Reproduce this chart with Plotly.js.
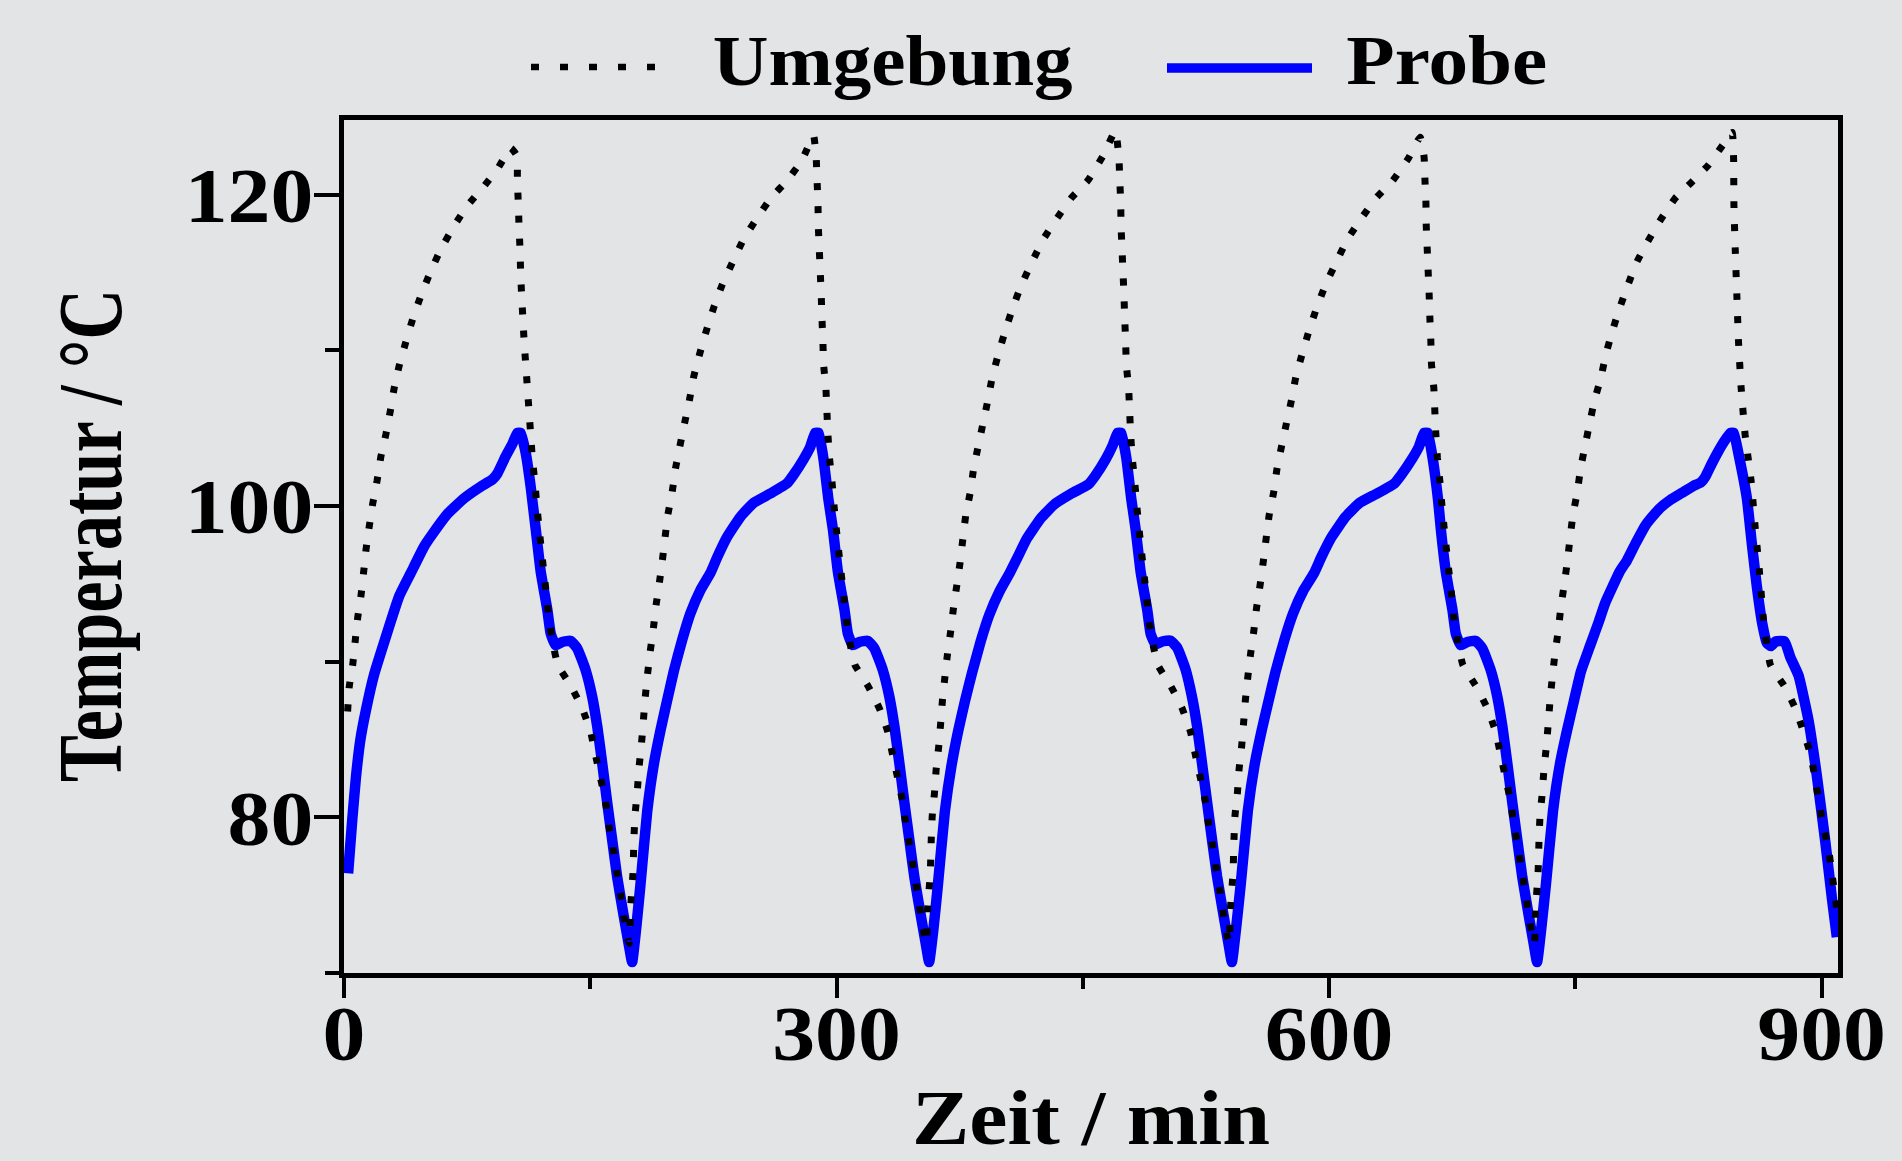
<!DOCTYPE html>
<html>
<head>
<meta charset="utf-8">
<script src="https://cdn.plot.ly/plotly-3.0.1.min.js"></script>
<style>
  html, body { margin: 0; padding: 0; background: #e3e4e6; }
  #chart { width: 1902px; height: 1161px; }
  #chart .js-line { stroke-linejoin: round !important; }
</style>
</head>
<body>
<div id="chart"></div>
<script>
// ---- Data ----
const seriesNames = ['Umgebung', 'Probe'];

const umgebungZeit = [
  2.2, 3.2, 5.3, 6.7, 8.3, 10.3, 12.0, 13.4, 15.4, 17.4, 20.1, 22.5, 25.5, 28.2, 30.6, 33.7, 37.7, 41.8, 46.8, 52.5, 59.0, 67.1, 75.2, 84.9, 93.5, 101.6,
  105.3, 105.6, 106.2, 106.6, 107.2, 107.6, 108.2, 109.0, 109.7, 110.7, 111.7, 112.7, 113.7, 114.7, 116.2, 117.4, 118.8, 120.2, 121.8, 123.4, 124.9, 127.2, 130.2,
  138.4, 145.1, 150.2, 153.2, 156.3, 159.3, 161.3, 163.8, 166.0, 168.4, 170.5, 172.9, 173.8,
  174.5, 176.0, 176.6, 177.2, 178.6, 179.6, 181.0, 182.2, 183.3, 184.7, 186.3, 188.3, 189.9, 192.0, 193.8, 197.2, 199.9, 201.9, 204.5, 207.4, 210.4, 213.0,
  216.7, 220.8, 225.2, 230.3, 236.8, 243.4, 251.6, 260.1, 269.8, 278.9, 286.0,
  287.6, 288.1, 288.7, 288.9, 289.5, 290.1, 290.7, 291.1, 291.7, 292.1, 293.5, 294.1, 294.7, 295.7, 297.2, 298.4, 299.8, 301.2, 302.8, 304.4, 305.9, 308.2,
  311.2, 319.4, 326.1, 331.2, 334.2, 337.3, 340.3, 342.3, 344.8, 347.0, 349.4, 351.5, 353.9, 354.8,
  355.5, 357.1, 357.7, 358.3, 359.7, 360.7, 362.2, 363.4, 364.5, 366.0, 367.6, 369.6, 371.3, 373.4, 375.3, 378.7, 381.5, 383.5, 386.2, 389.2, 392.2, 394.9,
  398.7, 402.9, 407.4, 412.6, 419.2, 426.0, 434.4, 443.1, 453.0, 462.3, 469.8,
  472.0, 472.5, 473.1, 473.3, 473.9, 474.5, 475.1, 475.5, 476.1, 476.5, 477.9, 478.5, 479.1, 480.1, 481.6, 482.8, 484.2, 485.6, 487.2, 488.8, 490.3, 492.6,
  495.6, 503.8, 510.5, 515.6, 518.6, 521.7, 524.7, 526.7, 529.2, 531.4, 533.8, 535.9, 538.3, 539.2,
  539.9, 541.5, 542.1, 542.7, 544.2, 545.2, 546.7, 547.9, 549.0, 550.5, 552.2, 554.2, 555.9, 558.1, 559.9, 563.5, 566.3, 568.3, 571.0, 574.0, 577.1, 579.8,
  583.7, 587.9, 592.5, 597.8, 604.5, 611.3, 619.8, 628.7, 638.7, 648.1, 655.5,
  657.9, 658.4, 659.0, 659.2, 659.8, 660.4, 661.0, 661.4, 662.0, 662.4, 663.8, 664.4, 665.0, 666.0, 667.5, 668.7, 670.1, 671.5, 673.1, 674.7, 676.2, 678.5,
  681.5, 689.7, 696.4, 701.5, 704.5, 707.6, 710.6, 712.6, 715.1, 717.3, 719.7, 721.8, 724.2, 725.1,
  725.8, 727.3, 727.9, 728.5, 729.9, 730.9, 732.3, 733.5, 734.6, 736.0, 737.6, 739.6, 741.2, 743.3, 745.1, 748.5, 751.2, 753.2, 755.8, 758.7, 761.7, 765.5,
  768.5, 772.2, 776.6, 781.7, 787.1, 794.2, 802.0, 810.7, 820.8, 831.0, 839.9, 845.5,
  846.4, 846.6, 847.4, 848.4, 849.4, 851.0, 853.4, 857.1, 859.5, 862.1, 864.6, 868.8, 877.5, 884.0, 889.0, 893.1, 896.1, 898.5, 901.1, 904.2, 906.0, 907.9, 909.3
];
const umgebungTemp = [
  86.8, 88.4, 89.8, 91.2, 92.8, 94.2, 95.8, 97.2, 98.7, 100.1, 101.6, 103.2, 104.6, 106.1, 107.6, 109.05, 110.55, 112.0, 113.5, 115.0, 116.5, 118.0, 119.3, 120.5, 121.65, 123.0,
  122.5, 120.9, 119.4, 118.0, 116.5, 115.0, 113.5, 112.0, 110.6, 109.1, 107.6, 106.1, 104.6, 103.1, 101.6, 100.1, 98.6, 97.2, 95.7, 94.2, 92.7, 91.2, 89.8,
  88.4, 87.0, 85.5, 84.0, 82.5, 81.0, 79.5, 78.1, 76.6, 75.1, 73.6, 72.2, 71.9,
  74.1, 76.4, 78.6, 80.1, 81.6, 83.1, 84.5, 86.0, 87.5, 89.0, 90.5, 92.0, 93.5, 95.0, 96.4, 99.4, 100.9, 102.4, 103.8, 105.3, 106.8, 108.3,
  109.8, 111.3, 112.75, 114.2, 115.7, 117.15, 118.5, 119.8, 120.9, 122.2, 123.8,
  122.4, 121.0, 119.5, 118.0, 116.5, 115.0, 113.5, 112.1, 110.6, 109.1, 107.6, 106.2, 104.7, 103.1, 101.6, 100.1, 98.6, 97.2, 95.7, 94.2, 92.7, 91.2,
  89.8, 88.4, 87.0, 85.5, 84.0, 82.5, 81.0, 79.5, 78.1, 76.6, 75.1, 73.6, 72.2, 71.9,
  74.1, 76.4, 78.6, 80.1, 81.6, 83.1, 84.5, 86.0, 87.5, 89.0, 90.5, 92.0, 93.5, 95.0, 96.4, 99.4, 100.9, 102.4, 103.8, 105.3, 106.8, 108.3,
  109.8, 111.3, 112.75, 114.2, 115.7, 117.15, 118.5, 119.8, 120.9, 122.5, 124.1,
  122.4, 121.0, 119.5, 118.0, 116.5, 115.0, 113.5, 112.1, 110.6, 109.1, 107.6, 106.2, 104.7, 103.1, 101.6, 100.1, 98.6, 97.2, 95.7, 94.2, 92.7, 91.2,
  89.8, 88.4, 87.0, 85.5, 84.0, 82.5, 81.0, 79.5, 78.1, 76.6, 75.1, 73.6, 72.2, 71.9,
  74.1, 76.4, 78.6, 80.1, 81.6, 83.1, 84.5, 86.0, 87.5, 89.0, 90.5, 92.0, 93.5, 95.0, 96.4, 99.4, 100.9, 102.4, 103.8, 105.3, 106.8, 108.3,
  109.8, 111.3, 112.75, 114.2, 115.7, 117.15, 118.5, 119.8, 120.9, 122.3, 123.7,
  122.4, 121.0, 119.5, 118.0, 116.5, 115.0, 113.5, 112.1, 110.6, 109.1, 107.6, 106.2, 104.7, 103.1, 101.6, 100.1, 98.6, 97.2, 95.7, 94.2, 92.7, 91.2,
  89.8, 88.4, 87.0, 85.5, 84.0, 82.5, 81.0, 79.5, 78.1, 76.6, 75.1, 73.6, 72.2, 71.9,
  74.1, 76.4, 78.6, 80.1, 81.6, 83.1, 84.5, 86.0, 87.5, 89.0, 90.5, 92.0, 93.5, 95.0, 96.4, 99.4, 100.9, 102.4, 103.8, 105.3, 106.8, 108.2,
  109.7, 111.1, 112.6, 114.1, 115.6, 117.0, 118.4, 119.76, 120.8, 121.9, 123.2, 124.0,
  122.4, 119.4, 116.5, 113.5, 110.55, 107.6, 104.6, 101.6, 98.7, 95.85, 92.7, 89.8, 88.4, 87.0, 85.5, 84.1, 82.5, 80.9, 79.4, 78.0, 76.6, 75.2, 74.0
];

const probeZeit = [
  2.5, 5.0, 7.3, 10.0, 13.4, 18.4, 25.5, 33.6, 40.7, 48.8, 53.9, 63.1, 73.2, 83.3, 90.4, 93.5, 98.5, 102.6, 105.6, 107.6,
  110.7, 113.7, 116.8, 119.8, 123.9, 125.9, 128.9, 133.0, 138.0, 142.1, 147.2, 151.2, 154.3, 157.3, 160.4, 163.4, 166.4, 170.5, 173.5, 175.5,
  178.0, 180.6, 184.7, 188.7, 192.8, 196.8, 200.9, 206.0, 211.0, 217.1, 223.2, 227.3, 233.3, 241.4, 249.5, 259.7, 269.8, 273.8, 279.9, 284.0, 287.0, 289.1,
  292.1, 295.1, 297.8, 300.8, 304.9, 306.9, 309.9, 314.0, 319.0, 323.1, 328.2, 332.2, 335.3, 338.3, 341.4, 344.4, 347.4, 351.5, 354.5, 356.4,
  359.0, 361.7, 365.9, 370.0, 374.2, 378.3, 382.6, 387.8, 393.0, 399.2, 405.5, 409.8, 415.9, 424.3, 432.6, 443.1, 453.5, 457.6, 463.9, 468.2, 471.2, 473.4,
  476.5, 479.6, 482.2, 485.2, 489.3, 491.3, 494.3, 498.4, 503.4, 507.5, 512.6, 516.6, 519.7, 522.7, 525.8, 528.8, 531.8, 535.9, 538.9, 540.8,
  543.4, 546.2, 550.5, 554.7, 559.0, 563.2, 567.5, 572.8, 578.1, 584.5, 590.9, 595.2, 601.5, 610.0, 618.5, 629.2, 639.8, 644.0, 650.4, 654.7, 657.9, 660.1,
  663.2, 666.4, 668.1, 671.1, 675.2, 677.2, 680.2, 684.3, 689.3, 693.4, 698.5, 702.5, 705.6, 708.6, 711.7, 714.7, 717.7, 721.8, 724.8, 726.7,
  729.3, 732.1, 736.4, 740.6, 745.0, 749.2, 753.5, 758.9, 764.4, 768.3, 777.1, 781.4, 786.7, 793.0, 800.9, 808.0, 815.1, 822.0, 826.3, 829.3, 833.0, 837.0,
  841.0, 844.5, 846.5, 849.4, 854.5, 857.5, 860.6, 863.6, 866.7, 869.0, 872.0, 877.5, 880.9, 886.0, 892.1, 897.2, 902.3, 906.3, 909.3
];
const probeTemp = [
  76.4, 79.8, 82.6, 85.0, 86.9, 89.2, 91.6, 94.2, 95.7, 97.4, 98.2, 99.5, 100.5, 101.25, 101.7, 102.1, 103.2, 104.0, 104.7, 104.7,
  103.4, 101.25, 98.5, 95.8, 93.3, 91.8, 91.06, 91.27, 91.34, 90.85, 89.45, 87.74, 85.81, 83.45, 80.88, 78.52, 76.16, 73.59, 71.8, 70.7,
  72.9, 75.7, 80.4, 83.4, 85.6, 87.5, 89.4, 91.4, 93.1, 94.6, 95.7, 96.7, 98.0, 99.3, 100.2, 100.8, 101.45, 102.0, 103.0, 103.8, 104.7, 104.7,
  103.0, 100.4, 98.5, 95.8, 93.3, 91.8, 91.06, 91.27, 91.34, 90.85, 89.45, 87.74, 85.81, 83.45, 80.88, 78.52, 76.16, 73.59, 71.8, 70.7,
  72.8, 75.6, 80.3, 83.3, 85.6, 87.5, 89.3, 91.3, 93.0, 94.5, 95.7, 96.6, 97.9, 99.2, 100.1, 100.8, 101.4, 101.95, 103.0, 103.9, 104.7, 104.7,
  103.1, 100.4, 98.5, 95.8, 93.3, 91.8, 91.1, 91.3, 91.35, 90.9, 89.5, 87.7, 85.8, 83.4, 80.9, 78.5, 76.2, 73.6, 71.8, 70.7,
  72.9, 75.7, 80.4, 83.4, 85.6, 87.5, 89.4, 91.4, 93.1, 94.6, 95.7, 96.7, 98.0, 99.3, 100.2, 100.8, 101.45, 102.0, 103.0, 103.8, 104.7, 104.7,
  103.0, 100.4, 98.5, 95.8, 93.3, 91.8, 91.06, 91.27, 91.34, 90.85, 89.45, 87.74, 85.81, 83.45, 80.88, 78.52, 76.16, 73.59, 71.8, 70.7,
  72.9, 75.7, 80.4, 83.4, 85.6, 87.5, 89.4, 91.0, 92.6, 93.8, 95.8, 96.5, 97.6, 98.8, 99.8, 100.4, 100.85, 101.3, 101.5, 101.9, 102.7, 103.5,
  104.2, 104.7, 104.7, 103.35, 100.5, 97.6, 94.8, 92.6, 91.2, 91.0, 91.3, 91.3, 90.3, 89.1, 86.2, 82.6, 78.4, 74.8, 72.3
];

const xTickVals = [0, 300, 600, 900];
const xMinorVals = [150, 450, 750];
const yTickVals = [80, 100, 120];
const yMinorVals = [70, 90, 110];

// ---- Styling ----
const BG = '#e3e4e6';
const FONT = 'Liberation Serif, Times New Roman, serif';

const traces = [
  {
    x: probeZeit, y: probeTemp, name: seriesNames[1], type: 'scatter', mode: 'lines',
    line: { color: '#0000ff', width: 10.5, shape: 'spline', smoothing: 0.4 }
  },
  {
    x: umgebungZeit, y: umgebungTemp, name: seriesNames[0], type: 'scatter', mode: 'lines',
    line: { color: '#000000', width: 7, dash: '7px,16px', shape: 'spline', smoothing: 0.4 }
  }
];

const L = 344, R = 64, T = 120, B = 188, W = 1902, H = 1161;
const pw = W - L - R, ph = H - T - B;
const px = v => (v - L) / pw;
const py = v => (H - B - v) / ph;

const layout = {
  width: W, height: H,
  margin: { l: L, r: R, t: T, b: B, pad: 0 },
  paper_bgcolor: BG, plot_bgcolor: BG,
  showlegend: false,
  font: { family: FONT, weight: 'bold', color: '#000', size: 78 },
  xaxis: {
    range: [0, 910], showgrid: false, zeroline: false,
    showline: true, linecolor: '#000', linewidth: 5, mirror: true,
    tickmode: 'array', tickvals: xTickVals, ticktext: xTickVals.map(String),
    ticks: 'outside', ticklen: 20, tickwidth: 4, tickcolor: '#000', ticklabelstandoff: -32,
    tickfont: { family: FONT, weight: 'bold', size: 78, color: '#000' },
    minor: { tickmode: 'array', tickvals: xMinorVals, ticks: 'outside', ticklen: 11, tickwidth: 4, tickcolor: '#000', showgrid: false },
    title: { text: 'Zeit / min', font: { family: FONT, weight: 'bold', size: 79, color: '#000' }, standoff: 32 }
  },
  yaxis: {
    range: [70, 124.8], showgrid: false, zeroline: false,
    showline: true, linecolor: '#000', linewidth: 5, mirror: true,
    tickmode: 'array', tickvals: yTickVals, ticktext: yTickVals.map(String),
    ticks: 'outside', ticklen: 25, tickwidth: 4, tickcolor: '#000', ticklabelstandoff: -15,
    tickfont: { family: FONT, weight: 'bold', size: 78, color: '#000' },
    minor: { tickmode: 'array', tickvals: yMinorVals, ticks: 'outside', ticklen: 14, tickwidth: 4, tickcolor: '#000', showgrid: false },
    title: { text: 'Temperatur / °C', font: { family: FONT, weight: 'bold', size: 92, color: '#000' }, standoff: 40 }
  },
  shapes: [
    { type: 'line', xref: 'paper', yref: 'paper', x0: px(531), x1: px(661), y0: py(67), y1: py(67),
      line: { color: '#000', width: 6.5, dash: '8px,21px' } },
    { type: 'line', xref: 'paper', yref: 'paper', x0: px(1167), x1: px(1312), y0: py(68), y1: py(68),
      line: { color: '#0000ff', width: 9.5 } }
  ],
  annotations: [
    { text: seriesNames[0], xref: 'paper', yref: 'paper', x: px(892), y: py(61), xanchor: 'center', yanchor: 'middle',
      showarrow: false, font: { family: FONT, weight: 'bold', size: 71, color: '#000' } },
    { text: seriesNames[1], xref: 'paper', yref: 'paper', x: px(1447), y: py(61), xanchor: 'center', yanchor: 'middle',
      showarrow: false, font: { family: FONT, weight: 'bold', size: 70, color: '#000' } }
  ]
};

// The reference lettering is a little wider than Liberation Serif; widen text with SVG textLength.
function fitText(selector, lenFn) {
  document.querySelectorAll(selector).forEach(el => {
    const w = el.getComputedTextLength();
    const target = lenFn(w, el);
    if (target > 0) {
      el.setAttribute('lengthAdjust', 'spacingAndGlyphs');
      el.setAttribute('textLength', target.toFixed(1));
    }
  });
}

function nudge(el, dx, dy, angle) {
  if (!el) return;
  const nx = (+el.getAttribute('x')) + dx;
  const ny = (+el.getAttribute('y')) + dy;
  el.setAttribute('x', nx);
  el.setAttribute('y', ny);
  if (angle) el.setAttribute('transform', 'rotate(' + angle + ',' + nx + ',' + ny + ')');
}

Plotly.newPlot('chart', traces, layout, { displayModeBar: false, staticPlot: true }).then(() => {
  fitText('#chart .xtick text, #chart .ytick text', w => w * 1.1);
  fitText('#chart text.xtitle', () => 358);
  fitText('#chart text.ytitle', () => 493);
  fitText('#chart .annotation-text', (w, el) => el.textContent === seriesNames[0] ? 360 : 201);
  // small position nudge of the y title to match the reference
  nudge(document.querySelector('#chart text.ytitle'), -6, -11, -90);
});
</script>
</body>
</html>
